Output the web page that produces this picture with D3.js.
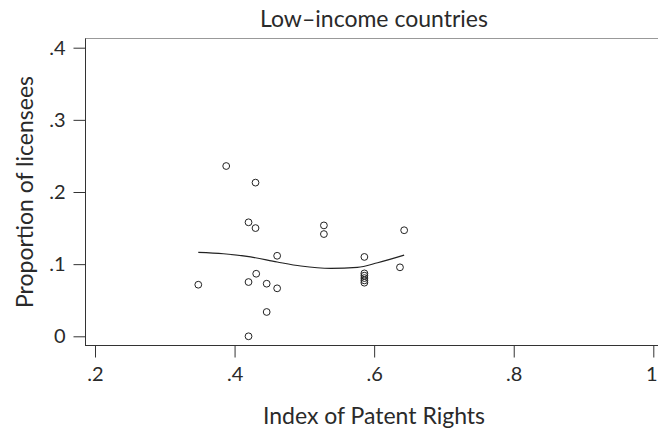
<!DOCTYPE html>
<html>
<head>
<meta charset="utf-8">
<script src="https://cdn.jsdelivr.net/npm/d3@7"></script>
<style>
  body { margin: 0; background: #fff; }
  text { font-family: Lato, "Open Sans", sans-serif; fill: #2a2a2a; }
</style>
</head>
<body>
<div id="chart"></div>
<script>
// data
var patentIndex = [0.388, 0.430, 0.420, 0.430, 0.528, 0.528, 0.461, 0.348, 0.431, 0.420,
                   0.446, 0.461, 0.446, 0.420, 0.643, 0.586, 0.637, 0.586, 0.586, 0.586, 0.586, 0.586];
var licensees   = [0.236, 0.213, 0.158, 0.150, 0.1537, 0.1417, 0.1116, 0.0715, 0.0867, 0.0752,
                   0.0729, 0.0665, 0.0337, 0.0, 0.147, 0.110, 0.0956, 0.0872, 0.084, 0.0807, 0.0775, 0.0743];
// smoothed (lowess) line
var fitX = [0.348, 0.384, 0.423, 0.461, 0.495, 0.538, 0.576, 0.605, 0.643];
var fitY = [0.1163, 0.1144, 0.110, 0.103, 0.0974, 0.0942, 0.0955, 0.102, 0.1126];
var xTicks = [0.2, 0.4, 0.6, 0.8, 1];
var yTicks = [0, 0.1, 0.2, 0.3, 0.4];

var width = 658, height = 436;

var svg = d3.select("#chart")
  .append("svg")
    .attr("width", width)
    .attr("height", height);

var x = d3.scaleLinear().domain([0.2, 1]).range([95, 653.3]);
var y = d3.scaleLinear().domain([0, 0.4]).range([336.3, 47.7]);

var fmt = function(d) { return d === 0 ? "0" : d === 1 ? "1" : String(d).replace(/^0/, ""); };

// top border line of plot region
svg.append("line")
  .attr("x1", 85).attr("x2", width)
  .attr("y1", 38.5).attr("y2", 38.5)
  .attr("stroke", "#999").attr("stroke-width", 1);

// title
svg.append("text")
  .attr("x", 374).attr("y", 27)
  .attr("text-anchor", "middle")
  .style("font-size", "23px")
  .text("Low\u2013income countries");

// X axis
var xAxis = svg.append("g")
  .attr("transform", "translate(0,345.5)")
  .call(d3.axisBottom(x).tickValues(xTicks).tickFormat(fmt).tickSize(12).tickPadding(9));
xAxis.select(".domain").attr("d", "M85,0H" + width).attr("stroke", "#333");
xAxis.selectAll(".tick line").attr("stroke", "#333");
xAxis.selectAll(".tick text").style("font-size", "20px").attr("fill", "#2a2a2a");
// keep the last label inside the picture
xAxis.selectAll(".tick text").filter(function(d) { return d === 1; }).attr("dx", "-2");

// Y axis
var yAxis = svg.append("g")
  .attr("transform", "translate(85.5,0)")
  .call(d3.axisLeft(y).tickValues(yTicks).tickFormat(fmt).tickSize(12).tickPadding(8));
yAxis.select(".domain").attr("d", "M0,38.5V345.5").attr("stroke", "#333");
yAxis.selectAll(".tick line").attr("stroke", "#333");
yAxis.selectAll(".tick text").style("font-size", "20px").attr("fill", "#2a2a2a");

// axis titles
svg.append("text")
  .attr("x", 374).attr("y", 424)
  .attr("text-anchor", "middle")
  .style("font-size", "23px")
  .text("Index of Patent Rights");

svg.append("text")
  .attr("transform", "translate(33,192) rotate(-90)")
  .attr("text-anchor", "middle")
  .style("font-size", "23px")
  .text("Proportion of licensees");

// points
svg.append("g")
  .selectAll("circle")
  .data(patentIndex)
  .enter().append("circle")
    .attr("cx", function(d) { return x(d); })
    .attr("cy", function(d, i) { return y(licensees[i]); })
    .attr("r", 3.4)
    .attr("fill", "none")
    .attr("stroke", "#222")
    .attr("stroke-width", 1);

// fitted line
var line = d3.line()
  .x(function(d) { return x(d); })
  .y(function(d, i) { return y(fitY[i]); })
  .curve(d3.curveMonotoneX);

svg.append("path")
  .attr("d", line(fitX))
  .attr("fill", "none")
  .attr("stroke", "#222")
  .attr("stroke-width", 1.2);
</script>
</body>
</html>
